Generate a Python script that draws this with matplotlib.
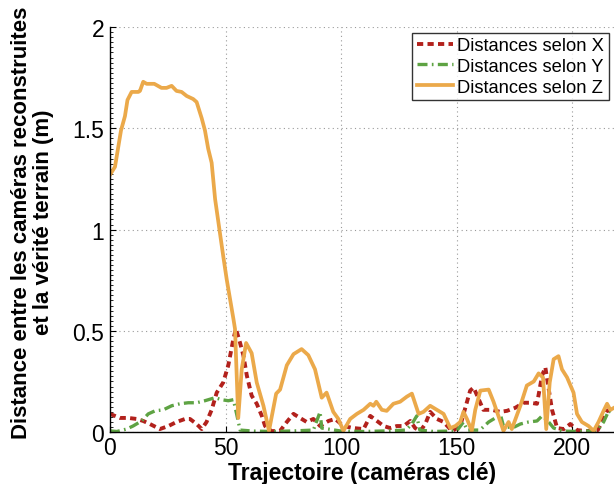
import numpy as np
import matplotlib
matplotlib.use("Agg")
import matplotlib.pyplot as plt
from matplotlib.ticker import MultipleLocator

plt.rcParams['font.family'] = ['Liberation Sans', 'DejaVu Sans']

# distances selon Z (trait plein orange)
z_x = [0, 2.2, 4.8, 6.5, 7.6, 9.4, 12.3, 13, 14.4, 15.9, 19.2, 22.3, 24.5, 26.7, 28.8, 31,
       33.2, 36, 37.5, 39.7, 41.1, 42.5, 44, 45.5, 49, 50.5, 53.4, 54.1, 55.5, 57, 58.9,
       61.3, 63.5, 66.4, 68.8, 71.9, 73.6, 76.5, 79.4, 82.9, 85.8, 88.7, 91.6, 93.7, 96.6,
       98.8, 101, 103.9, 106.8, 109.7, 112.6, 114, 115.2, 117.6, 119.7, 122.6, 125.5,
       128.4, 130.6, 133.5, 135.6, 138.5, 141.4, 144.3, 147.2, 149.4, 151.5, 152.9, 154.4,
       156.5, 158, 160.2, 163.8, 165.9, 168, 170.2, 172.4, 173.8, 177.5, 180.3, 183.3,
       185.4, 187.3, 188.7, 190.2, 191.9, 194, 195.5, 197.7, 200.5, 202, 204.1, 207,
       209.2, 211.3, 213.5, 215, 216.4, 218]
z_y = [1.27, 1.31, 1.49, 1.56, 1.64, 1.68, 1.68, 1.685, 1.73, 1.72, 1.72, 1.70, 1.70, 1.71,
       1.685, 1.68, 1.66, 1.645, 1.63, 1.55, 1.49, 1.40, 1.33, 1.15, 0.87, 0.755, 0.56, 0.51,
       0.07, 0.31, 0.44, 0.39, 0.245, 0.13, 0.006, 0.19, 0.21, 0.33, 0.385, 0.41, 0.38,
       0.31, 0.17, 0.195, 0.10, 0.065, 0.006, 0.065, 0.09, 0.11, 0.14, 0.13, 0.15, 0.11,
       0.105, 0.14, 0.15, 0.175, 0.19, 0.09, 0.10, 0.13, 0.11, 0.09, 0.02, 0.03, 0.05,
       0.10, 0.065, 0.006, 0.11, 0.205, 0.21, 0.15, 0.08, 0.006, 0.05, 0.015, 0.13, 0.23,
       0.25, 0.29, 0.27, 0.015, 0.245, 0.36, 0.375, 0.31, 0.27, 0.195, 0.09, 0.05, 0.03,
       0.006, 0.05, 0.105, 0.14, 0.11, 0.12]

# distances selon X (tirets rouges)
x_x = [0, 2.2, 4.3, 8, 11.5, 14.4, 17.3, 21.6, 25.3, 28.8, 32.5, 34.6, 37.5, 39.7, 41.8,
       44, 46.2, 49, 51.2, 53.4, 54.5, 56.3, 57.7, 59.2, 61.3, 63.5, 65.7, 67.1, 69.9,
       73.6, 76.5, 79.4, 82.2, 85.1, 88, 90.9, 94.5, 97.4, 101, 105.3, 109.7, 112.6,
       115.5, 118.4, 121.2, 124.1, 127, 129.9, 132, 134.2, 136.4, 138.5, 141.4, 144.3,
       148, 151.5, 153.7, 155.8, 157.3, 159.4, 161.5, 165.2, 168.8, 171.7, 175.3, 178.9,
       181.8, 184.7, 186.9, 188.3, 189.8, 191.2, 193.4, 196.3, 199.1, 202, 206, 211, 215,
       218]
x_y = [0.09, 0.08, 0.07, 0.07, 0.065, 0.055, 0.04, 0.015, 0.03, 0.05, 0.065, 0.065, 0.04,
       0.015, 0.05, 0.11, 0.195, 0.245, 0.33, 0.46, 0.51, 0.44, 0.38, 0.28, 0.18, 0.14,
       0.08, 0.03, 0.005, 0.006, 0.05, 0.09, 0.07, 0.05, 0.065, 0.03, 0.055, 0.065, 0.03,
       0.02, 0.015, 0.08, 0.055, 0.03, 0.02, 0.03, 0.03, 0.055, 0.02, 0.005, 0.04, 0.10,
       0.065, 0.05, 0.005, 0.03, 0.12, 0.205, 0.22, 0.165, 0.11, 0.11, 0.10, 0.105, 0.12,
       0.145, 0.145, 0.14, 0.28, 0.32, 0.21, 0.11, 0.02, 0.015, 0.04, 0.01, 0.005, 0.01,
       0.105, 0.12]

# distances selon Y (tiret-point vert)
y_x = [0, 3, 7.2, 10, 13.7, 16.6, 19.5, 23.1, 26.7, 30.3, 33.9, 37.5, 41.1, 45.5, 48.3,
       51.2, 53.4, 54.8, 56.3, 62, 70, 80, 88, 90.9, 91.6, 100, 110, 120, 128, 130.6,
       132.7, 134, 140, 150, 152.9, 154.5, 160, 163.8, 166.7, 168.8, 170.2, 174, 177.5,
       181.1, 184.7, 186.9, 189, 191.9, 196, 202, 208, 211, 213.5, 215.7, 218]
y_y = [0.006, 0.003, 0.015, 0.03, 0.055, 0.09, 0.105, 0.11, 0.13, 0.14, 0.145, 0.145,
       0.155, 0.17, 0.16, 0.155, 0.16, 0.09, 0.01, 0.005, 0.003, 0.006, 0.01, 0.10, 0.02,
       0.005, 0.003, 0.006, 0.01, 0.04, 0.08, 0.01, 0.003, 0.006, 0.05, 0.01, 0.01, 0.05,
       0.07, 0.09, 0.03, 0.02, 0.04, 0.05, 0.055, 0.08, 0.06, 0.02, 0.005, 0.003, 0.006,
       0.01, 0.05, 0.105, 0.09]

fig = plt.figure(figsize=(6.14, 4.85), dpi=100)
ax = fig.add_axes([0.179, 0.107, 0.821, 0.835])

ax.plot(x_x, x_y, color="#B2211C", lw=2.8, ls=(0, (1.6, 1.1)), label="Distances selon X")
ax.plot(y_x, y_y, color="#5EA343", lw=2.4, ls=(0, (3.0, 1.3, 0.5, 1.3)), label="Distances selon Y")
ax.plot(z_x, z_y, color="#EBA94A", lw=2.7, label="Distances selon Z")

ax.set_xlim(0, 218)
ax.set_ylim(0, 2)
ax.set_xticks([0, 50, 100, 150, 200])
ax.set_yticks([0, 0.5, 1, 1.5, 2])
ax.set_yticklabels(["0", "0.5", "1", "1.5", "2"])
ax.yaxis.set_minor_locator(MultipleLocator(0.025))
ax.tick_params(axis="both", which="major", direction="in", length=4, labelsize=16.5, colors="black")
ax.tick_params(axis="y", which="minor", direction="in", length=2, width=0.6)
ax.tick_params(axis="x", which="major", pad=3)
ax.tick_params(axis="y", which="major", pad=4)
ax.grid(True, which="major", color="#999999", ls=(0, (1, 3)), lw=0.8)
ax.spines["top"].set_visible(False)
ax.spines["right"].set_visible(False)
ax.spines["left"].set_linewidth(1.0)
ax.spines["bottom"].set_linewidth(1.0)

ax.set_xlabel("Trajectoire (caméras clé)", fontsize=16.5, fontweight="bold", labelpad=1)
ax.set_ylabel("Distance entre les caméras reconstruites\net la vérité terrain (m)",
              fontsize=16, fontweight="bold", linespacing=1.1)
ax.yaxis.set_label_coords(-0.11, 0.52)

leg = ax.legend(loc="upper right", fontsize=13.2, frameon=True, fancybox=False,
                borderpad=0.25, labelspacing=0.2, handlelength=2.0, handletextpad=0.2,
                borderaxespad=0.3)
leg.get_frame().set_edgecolor("black")
leg.get_frame().set_linewidth(1.0)

fig.savefig("out.png", dpi=100)
plt.close()
